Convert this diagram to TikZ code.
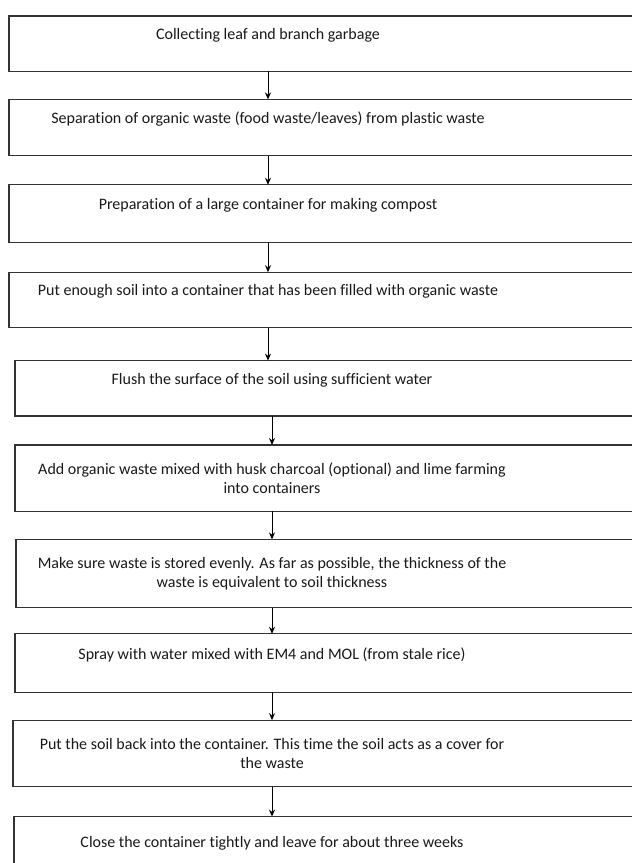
\documentclass[tikz,border=0pt]{standalone}
\usepackage{fontspec}
\setmainfont[Ligatures=NoCommon]{Carlito}
\usetikzlibrary{positioning,arrows.meta}

\begin{document}
\begin{tikzpicture}[x=1pt, y=-1pt, node distance=29pt,
    stage/.style={inner sep=0pt, align=center, text=black!90,
                  font=\fontsize{16}{19}\selectfont},
    frame/.style={draw=black!80, line width=1.3pt},
    flow/.style={draw=black, line width=1pt, -{Stealth[length=7pt,width=6pt]}}]
  \useasboundingbox (0,0) rectangle (632,863);
  \clip (0,0) rectangle (632,863);

  \node (s1) [stage, minimum height=55pt, anchor=north] at (268,16)
    {Collecting leaf and branch garbage\\~};
  \node (s2) [stage, minimum height=56pt, below=28pt of s1]
    {Separation of organic waste (food waste/leaves) from plastic waste\\~};
  \node (s3) [stage, minimum height=57pt, below=of s2]
    {Preparation of a large container for making compost\\~};
  \node (s4) [stage, minimum height=55pt, below=30pt of s3]
    {Put enough soil into a container that has been filled with organic waste\\~};
  \node (s5) [stage, minimum height=55pt, below=33pt of s4, xshift=4pt]
    {Flush the surface of the soil using sufficient water\\~};
  \node (s6) [stage, minimum height=66pt, below=of s5]
    {Add organic waste mixed with husk charcoal (optional) and lime farming\\into containers};
  \node (s7) [stage, minimum height=68pt, below=28pt of s6]
    {Make sure waste is stored evenly. As far as possible, the thickness of the\\waste is equivalent to soil thickness};
  \node (s8) [stage, minimum height=58pt, below=26pt of s7]
    {Spray with water mixed with EM4 and MOL (from stale rice)\\~};
  \node (s9) [stage, minimum height=66pt, below=28pt of s8]
    {Put the soil back into the container. This time the soil acts as a cover for\\the waste};
  \node (s10) [stage, minimum height=70pt, below=30pt of s9]
    {Close the container tightly and leave for about three weeks\\~};

  % frames run past the right edge of the page
  \foreach \n/\l in {1/9,2/9,3/9,4/9,5/15,6/15,7/16,8/15,9/13,10/14}
    \draw[frame] (\l,0 |- s\n.north) rectangle (660,0 |- s\n.south);

  \foreach \a/\b in {1/2,2/3,3/4,4/5,5/6,6/7,7/8,8/9,9/10}
    \draw[flow] (s\a.south) -- (s\a.south |- s\b.north);
\end{tikzpicture}
\end{document}
